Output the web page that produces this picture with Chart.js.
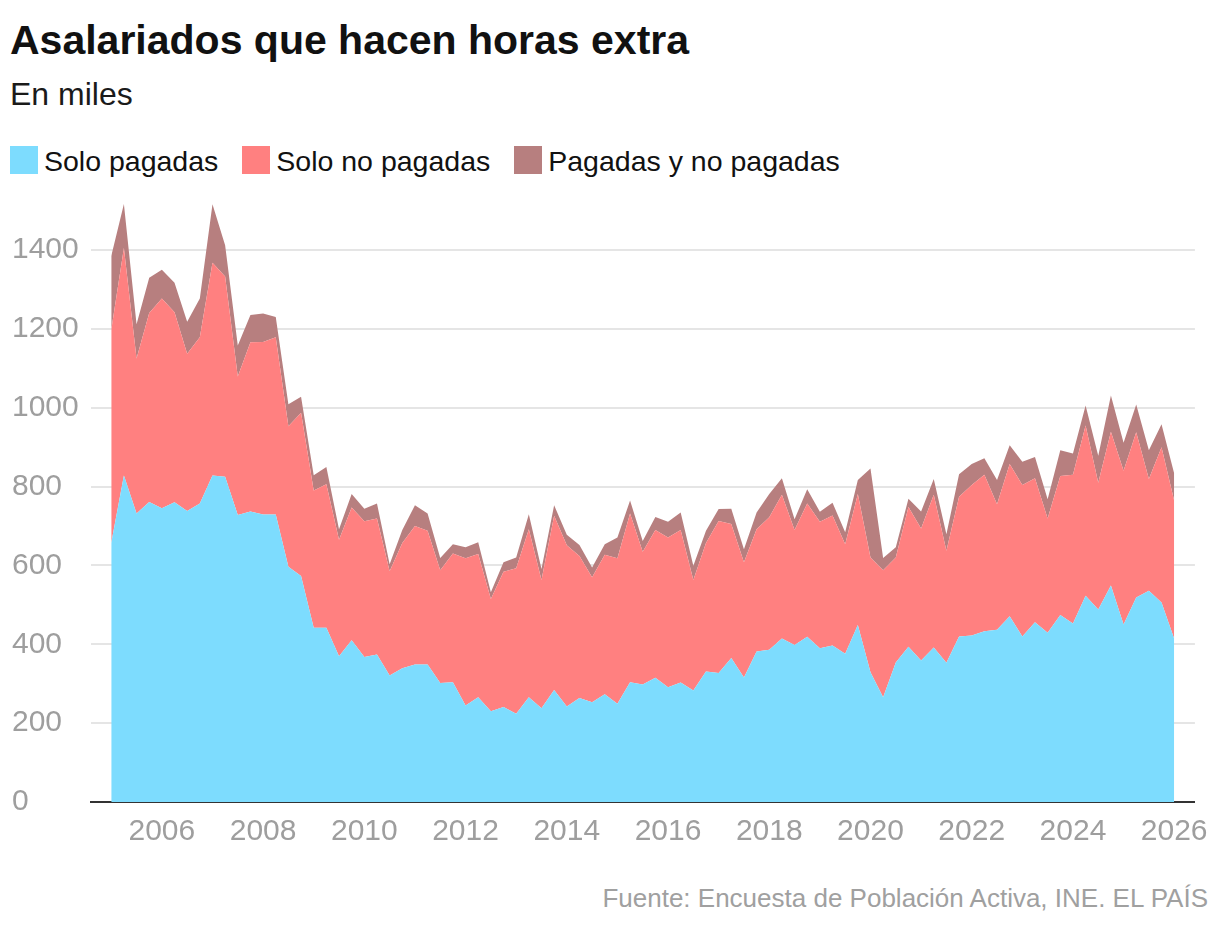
<!DOCTYPE html>
<html>
<head>
<meta charset="utf-8">
<script src="https://cdn.jsdelivr.net/npm/chart.js@4.4.1/dist/chart.umd.min.js"></script>
<style>
  body { margin: 0; background: #fff; }
  #wrap { position: relative; width: 1220px; height: 928px; overflow: hidden; font-family: "Liberation Sans", Arial, sans-serif; }
  h1 { position: absolute; left: 10px; top: 20px; margin: 0; font: bold 41px/1 "Liberation Sans", Arial, sans-serif; color: #111; white-space: nowrap; }
  .sub { position: absolute; left: 10px; top: 78px; font-size: 32px; line-height: 1; color: #1a1a1a; }
  #legend { position: absolute; left: 10px; top: 146px; display: flex; font-size: 28.5px; line-height: 1; color: #111; }
  #legend .item { display: flex; align-items: flex-start; margin-right: 24px; }
  #legend .box { width: 28px; height: 28px; margin-right: 6px; }
  #legend .txt { padding-top: 1px; }
  #chartBox { position: absolute; left: 0; top: 180px; width: 1220px; height: 680px; }
  .src { position: absolute; right: 12px; top: 885px; font-size: 26px; line-height: 1; color: #a0a0a0; }
</style>
</head>
<body>
<div id="wrap">
  <h1>Asalariados que hacen horas extra</h1>
  <div class="sub">En miles</div>
  <div id="legend"></div>
  <div id="chartBox"><canvas id="chart" width="1220" height="680"></canvas></div>
  <div class="src">Fuente: Encuesta de Población Activa, INE. EL PAÍS</div>
</div>
<script>
// Trimestres EPA
const quarters = [
  '2005T1','2005T2','2005T3','2005T4', '2006T1','2006T2','2006T3','2006T4',
  '2007T1','2007T2','2007T3','2007T4', '2008T1','2008T2','2008T3','2008T4',
  '2009T1','2009T2','2009T3','2009T4', '2010T1','2010T2','2010T3','2010T4',
  '2011T1','2011T2','2011T3','2011T4', '2012T1','2012T2','2012T3','2012T4',
  '2013T1','2013T2','2013T3','2013T4', '2014T1','2014T2','2014T3','2014T4',
  '2015T1','2015T2','2015T3','2015T4', '2016T1','2016T2','2016T3','2016T4',
  '2017T1','2017T2','2017T3','2017T4', '2018T1','2018T2','2018T3','2018T4',
  '2019T1','2019T2','2019T3','2019T4', '2020T1','2020T2','2020T3','2020T4',
  '2021T1','2021T2','2021T3','2021T4', '2022T1','2022T2','2022T3','2022T4',
  '2023T1','2023T2','2023T3','2023T4', '2024T1','2024T2','2024T3','2024T4',
  '2025T1','2025T2','2025T3','2025T4', '2026T1'
];

// Miles de asalariados
const soloPagadas = [
  657, 828, 732, 761, 745, 760, 738, 757,
  828, 825, 728, 737, 729, 729, 597, 573,
  442, 442, 370, 410, 368, 374, 321, 339,
  349, 349, 302, 304, 245, 266, 230, 241,
  224, 266, 238, 284, 242, 264, 253, 273,
  249, 304, 298, 315, 291, 303, 283, 331,
  327, 365, 316, 382, 386, 415, 398, 419,
  390, 397, 376, 449, 329, 266, 354, 394,
  359, 392, 353, 420, 422, 433, 437, 471,
  420, 456, 429, 474, 453, 523, 488, 549,
  450, 519, 536, 506, 414
];
const soloNoPagadas = [
  540, 577, 393, 479, 532, 482, 399, 422,
  540, 508, 351, 429, 438, 450, 356, 414,
  348, 364, 295, 337, 344, 345, 264, 318,
  351, 339, 286, 326, 373, 363, 285, 343,
  369, 426, 325, 442, 409, 360, 317, 354,
  369, 428, 337, 375, 380, 387, 280, 326,
  386, 340, 292, 310, 336, 364, 292, 338,
  321, 330, 278, 332, 291, 322, 266, 354,
  335, 387, 284, 354, 382, 397, 318, 386,
  384, 365, 290, 353, 377, 432, 322, 390,
  390, 419, 283, 394, 350
];
const pagadasYNoPagadas = [
  188, 112, 87, 90, 73, 75, 81, 98,
  148, 79, 79, 69, 72, 51, 56, 41,
  39, 44, 27, 34, 32, 38, 18, 33,
  53, 44, 31, 24, 28, 30, 17, 24,
  27, 38, 28, 27, 27, 28, 25, 27,
  53, 33, 27, 33, 40, 44, 36, 31,
  30, 39, 33, 42, 59, 42, 27, 36,
  25, 32, 30, 36, 226, 31, 26, 21,
  43, 40, 42, 57, 53, 42, 62, 48,
  59, 54, 49, 65, 54, 51, 68, 92,
  71, 70, 73, 58, 69
];

const seriesNames = ['Solo pagadas', 'Solo no pagadas', 'Pagadas y no pagadas'];
const seriesColors = ['#7ddcfe', '#ff8080', '#b77f7f'];
const xTickYears = [2006, 2008, 2010, 2012, 2014, 2016, 2018, 2020, 2022, 2024, 2026];
const yTicks = [0, 200, 400, 600, 800, 1000, 1200, 1400];

// '2005T3' -> 2005.5
function quarterToYear(q) {
  return parseInt(q.slice(0, 4), 10) + (parseInt(q.slice(5), 10) - 1) / 4;
}

function toPoints(values) {
  return values.map((v, i) => ({ x: quarterToYear(quarters[i]), y: v }));
}

const allSeries = [soloPagadas, soloNoPagadas, pagadasYNoPagadas];

const datasets = allSeries.map((vals, i) => ({
  label: seriesNames[i],
  data: toPoints(vals),
  backgroundColor: seriesColors[i],
  borderWidth: 0,
  pointRadius: 0,
  tension: 0,
  fill: i === 0 ? 'origin' : '-1',
}));

// leyenda HTML
const legendEl = document.getElementById('legend');
seriesNames.forEach((name, i) => {
  const item = document.createElement('div');
  item.className = 'item';
  item.innerHTML = '<div class="box" style="background:' + seriesColors[i] + '"></div><div class="txt">' + name + '</div>';
  legendEl.appendChild(item);
});

const tickFont = { family: '"Liberation Sans", Arial, sans-serif', size: 30 };

new Chart(document.getElementById('chart'), {
  type: 'line',
  data: { datasets },
  options: {
    responsive: false,
    animation: false,
    layout: { padding: { left: 12, right: 24, top: 6, bottom: 18 } },
    plugins: {
      legend: { display: false },
      tooltip: { enabled: false },
    },
    scales: {
      x: {
        type: 'linear',
        min: 2004.6,
        max: 2026.41,
        z: 1,
        afterBuildTicks: s => { s.ticks = xTickYears.map(v => ({ value: v })); },
        afterFit: s => { s.height = 40; },
        grid: { display: false, drawTicks: false },
        border: { display: true, color: '#333', width: 2 },
        ticks: {
          color: '#9e9e9e',
          font: tickFont,
          padding: 12,
          maxRotation: 0,
          callback: v => String(v),
        },
      },
      y: {
        stacked: true,
        min: 0,
        max: 1532,
        z: 1,
        afterBuildTicks: s => { s.ticks = yTicks.map(v => ({ value: v })); },
        afterFit: s => { s.width = 79; },
        grid: { color: 'rgba(0,0,0,0.1)', lineWidth: 2, drawTicks: false },
        border: { display: false },
        ticks: {
          color: '#9e9e9e',
          font: tickFont,
          padding: 0,
          crossAlign: 'far',
          callback: v => String(v),
        },
      },
    },
  },
});
</script>
</body>
</html>
